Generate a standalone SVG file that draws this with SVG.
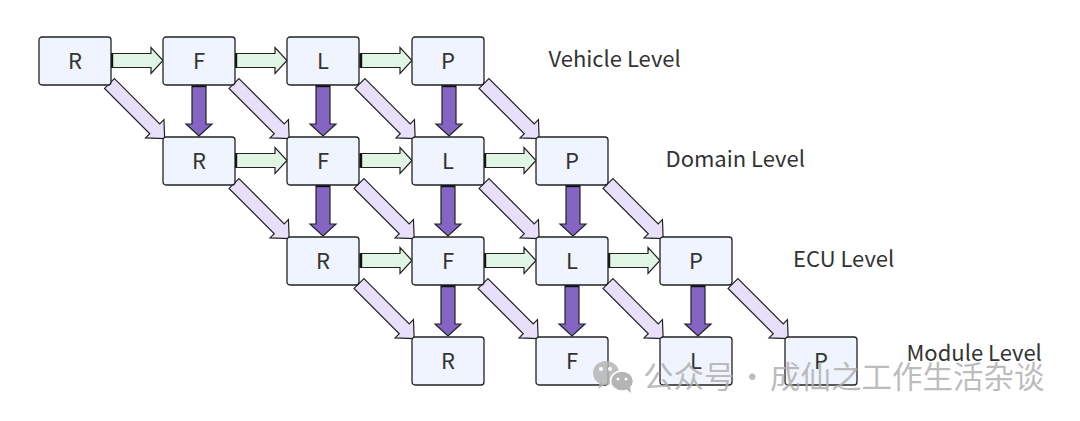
<svg xmlns="http://www.w3.org/2000/svg" width="1080" height="421" viewBox="0 0 1080 421">
<style>
.n{fill:#eff4fe;stroke:#222;stroke-width:1.3}
.t{font-family:"Noto Sans CJK SC","Noto Sans",sans-serif;font-size:22px;fill:#333;text-anchor:middle}
.l{font-family:"Noto Sans CJK SC","Noto Sans",sans-serif;font-size:22px;fill:#333}
.h{fill:#e0f5e3;stroke:#222;stroke-width:1.2}
.v{fill:#8565c4;stroke:#222;stroke-width:1.2}
.d{fill:#e8e0fb;stroke:#222;stroke-width:1.2}
.e{stroke:#111;stroke-width:2.4;fill:none}
.w{font-family:"Noto Sans CJK SC",sans-serif;font-size:30.500px;fill:#b0b0b0;fill-opacity:.85}
</style>
<defs>
<g id="ah"><polygon class="h" points="0,-7 40,-7 40,-13 52,0 40,13 40,7 0,7"/><path class="e" d="M1,-7V7"/></g>
<g id="av"><polygon class="v" points="-7,0 7,0 7,39 13,39 0,51 -13,39 -7,39"/><path class="e" d="M-7,1H7"/></g>
<polygon id="ad" class="d" points="0,-7 64,-7 64,-13 78,0 64,13 64,7 0,7"/>
<rect id="box" class="n" width="72" height="48" rx="3"/>
</defs>
<g id="connectors">
<use href="#ah" x="111" y="60.500"/><use href="#ah" x="235" y="60.500"/><use href="#ah" x="360" y="60.500"/>
<use href="#ah" x="235" y="160.500"/><use href="#ah" x="360" y="160.500"/><use href="#ah" x="484" y="160.500"/>
<use href="#ah" x="360" y="260.500"/><use href="#ah" x="484" y="260.500"/><use href="#ah" x="608" y="260.500"/>
<use href="#av" x="199" y="85"/><use href="#av" x="323" y="85"/><use href="#av" x="449" y="85"/>
<use href="#av" x="323" y="185"/><use href="#av" x="448" y="185"/><use href="#av" x="573" y="185"/>
<use href="#av" x="448" y="285"/><use href="#av" x="572" y="285"/><use href="#av" x="698" y="285"/>
<use href="#ad" transform="translate(109.500 83.500) rotate(45)"/>
<use href="#ad" transform="translate(234 83.500) rotate(45)"/>
<use href="#ad" transform="translate(360 83.500) rotate(45)"/>
<use href="#ad" transform="translate(484 83.500) rotate(45)"/>
<use href="#ad" transform="translate(234 183.500) rotate(45)"/>
<use href="#ad" transform="translate(359 183.500) rotate(45)"/>
<use href="#ad" transform="translate(484 183.500) rotate(45)"/>
<use href="#ad" transform="translate(608 183.500) rotate(45)"/>
<use href="#ad" transform="translate(359 283.500) rotate(45)"/>
<use href="#ad" transform="translate(483 283.500) rotate(45)"/>
<use href="#ad" transform="translate(608 283.500) rotate(45)"/>
<use href="#ad" transform="translate(733 283.500) rotate(45)"/>
</g>
<g id="n00"><use href="#box" x="39" y="37"/><text class="t" x="75" y="69">R</text></g>
<g id="n01"><use href="#box" x="163" y="37"/><text class="t" x="199" y="69">F</text></g>
<g id="n02"><use href="#box" x="287" y="37"/><text class="t" x="323" y="69">L</text></g>
<g id="n03"><use href="#box" x="412" y="37"/><text class="t" x="448" y="69">P</text></g>
<g id="n10"><use href="#box" x="163" y="137"/><text class="t" x="199" y="169">R</text></g>
<g id="n11"><use href="#box" x="287" y="137"/><text class="t" x="323" y="169">F</text></g>
<g id="n12"><use href="#box" x="412" y="137"/><text class="t" x="448" y="169">L</text></g>
<g id="n13"><use href="#box" x="536" y="137"/><text class="t" x="572" y="169">P</text></g>
<g id="n20"><use href="#box" x="287" y="237"/><text class="t" x="323" y="269">R</text></g>
<g id="n21"><use href="#box" x="412" y="237"/><text class="t" x="448" y="269">F</text></g>
<g id="n22"><use href="#box" x="536" y="237"/><text class="t" x="572" y="269">L</text></g>
<g id="n23"><use href="#box" x="660" y="237"/><text class="t" x="696" y="269">P</text></g>
<g id="n30"><use href="#box" x="412" y="337"/><text class="t" x="448" y="369">R</text></g>
<g id="n31"><use href="#box" x="536" y="337"/><text class="t" x="572" y="369">F</text></g>
<g id="n32"><use href="#box" x="660" y="337"/><text class="t" x="696" y="369">L</text></g>
<g id="n33"><use href="#box" x="785" y="337"/><text class="t" x="821" y="369">P</text></g>
<text class="l" x="548.500" y="67">Vehicle Level</text>
<text class="l" x="665.500" y="167">Domain Level</text>
<text class="l" x="793" y="267">ECU Level</text>
<text class="l" x="906.500" y="361">Module Level</text>
<g id="watermark">
<ellipse cx="606" cy="373" rx="13" ry="12" fill="#b4b4b4" fill-opacity=".85"/>
<polygon points="600,382 598,389 606,384" fill="#b4b4b4" fill-opacity=".85"/>
<ellipse cx="622" cy="381" rx="11.500" ry="10" fill="#b4b4b4" stroke="#fff" stroke-width="1.500"/>
<polygon points="626,389 631,393 630,386" fill="#b4b4b4"/>
<circle cx="601" cy="369" r="2" fill="#fff"/><circle cx="610" cy="369" r="2" fill="#fff"/>
<circle cx="618" cy="379" r="1.500" fill="#fff"/><circle cx="626" cy="379" r="1.500" fill="#fff"/>
<text class="w" x="643" y="388">公众号</text>
<text class="w" x="737" y="388">·</text>
<text class="w" x="770" y="388">成仙之工作生活杂谈</text>
</g>
</svg>
